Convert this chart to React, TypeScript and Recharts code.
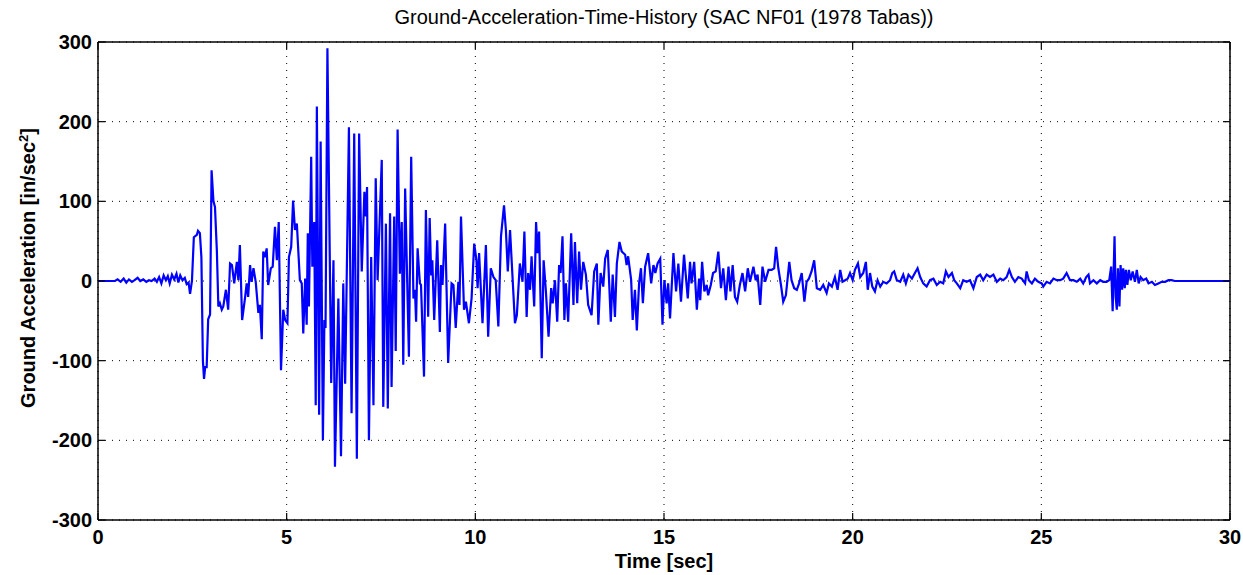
import React from 'react';
import { LineChart, Line, XAxis, YAxis, CartesianGrid, ReferenceLine } from 'recharts';

// --- tick values ---
const X_TICKS = [0, 5, 10, 15, 20, 25, 30];
const Y_TICKS = [-300, -200, -100, 0, 100, 200, 300];

// --- record, [time (s), acceleration (in/sec^2)] ---
const PRE_EVENT: [number, number][] = [
  [0, 0], [0.45, 0], [0.52, 2], [0.6, -1], [0.68, 3], [0.75, -2], [0.82, 2], [0.9, -1], [0.97, 1],
  [1.05, 4], [1.12, 0], [1.2, 2], [1.28, -1], [1.35, 1], [1.42, 0], [1.5, 3], [1.56, -1], [1.62, 5],
  [1.68, -3], [1.74, 7], [1.8, 1], [1.85, 6], [1.9, -3], [1.96, 8], [2.02, 2], [2.08, 9], [2.13, -2],
  [2.18, 7], [2.24, 1], [2.3, 4], [2.35, -4], [2.4, -2], [2.44, -16], [2.49, 0],
];

const STRONG_MOTION: [number, number][] = [
  [2.54, 55], [2.62, 58], [2.65, 63], [2.7, 60], [2.74, 30], [2.78, -100], [2.81, -123], [2.84, -108],
  [2.88, -108], [2.92, -48], [2.97, -42], [3.01, 139], [3.06, 100], [3.1, 93], [3.15, 38], [3.19, -32],
  [3.23, -28], [3.28, -36], [3.32, -32], [3.39, -11], [3.45, -36], [3.5, 22], [3.55, 20], [3.61, -3],
  [3.68, 24], [3.72, 1], [3.76, 45], [3.82, -49], [3.9, -20], [3.94, -3], [3.98, -20], [4.03, 20],
  [4.07, -1], [4.12, 16], [4.18, -1], [4.25, -40], [4.29, -30], [4.34, -73], [4.38, 37], [4.43, 30],
  [4.47, 41], [4.51, -5], [4.58, 16], [4.63, 18], [4.69, 68], [4.74, 26], [4.79, 74], [4.85, -112],
  [4.91, -36], [4.96, -49], [5.02, -53], [5.06, 30], [5.12, 43], [5.17, 101], [5.22, 64], [5.27, 72],
  [5.35, 1], [5.4, -3], [5.44, -66], [5.49, 3], [5.53, -55], [5.56, 60], [5.59, -32], [5.65, 156],
  [5.68, 18], [5.73, 74], [5.77, -156], [5.8, 219], [5.86, -168], [5.9, 175], [5.96, -200], [6.0, -49],
  [6.03, -59], [6.08, 292], [6.18, -128], [6.24, 26], [6.28, -233], [6.37, -22], [6.44, -220],
  [6.5, -3], [6.55, -129], [6.65, 193], [6.72, -166], [6.79, 185], [6.86, -223], [6.92, 185],
  [6.99, 12], [7.06, 112], [7.1, 81], [7.13, 118], [7.18, -200], [7.24, 30], [7.3, -156], [7.36, 129],
  [7.41, 1], [7.52, 152], [7.56, -158], [7.63, 72], [7.68, -160], [7.74, 85], [7.78, -133], [7.85, 81],
  [7.89, -88], [7.94, 190], [8.0, 9], [8.05, 74], [8.09, -105], [8.14, 116], [8.19, 9], [8.24, -95],
  [8.3, 156], [8.36, -22], [8.4, -11], [8.43, -51], [8.47, 41], [8.53, -3], [8.56, -5], [8.64, -120],
  [8.69, 89], [8.75, -45], [8.79, 79], [8.83, 7], [8.86, 26], [8.91, -49], [8.99, 51], [9.06, -64],
  [9.09, 20], [9.13, -5], [9.2, 72], [9.28, -103], [9.37, -3], [9.42, -5], [9.48, -59], [9.55, -1],
  [9.58, -30], [9.62, 81], [9.7, -36], [9.75, -26], [9.83, -53], [9.9, -22], [9.97, 47],
];

const CODA: [number, number][] = [
  [10.03, 26], [10.06, -9], [10.1, 35], [10.19, -53], [10.28, 45], [10.34, -70], [10.41, 16],
  [10.48, 5], [10.54, 1], [10.61, -57], [10.68, 56], [10.76, 95], [10.81, 64], [10.86, 12], [10.92, 64],
  [11.05, -53], [11.1, -43], [11.18, 22], [11.25, -1], [11.3, 62], [11.36, -45], [11.4, 10],
  [11.45, -11], [11.49, 31], [11.56, -32], [11.61, 74], [11.65, 35], [11.69, 62], [11.76, -97],
  [11.81, 26], [11.87, -13], [11.94, -70], [12.01, -9], [12.05, -28], [12.11, 1], [12.17, -51],
  [12.22, 20], [12.26, 10], [12.31, 56], [12.36, -49], [12.4, -3], [12.46, -51], [12.54, 60],
  [12.6, -30], [12.64, 49], [12.7, -28], [12.75, 37], [12.8, -11], [12.86, 24], [12.93, 8],
  [12.99, -30], [13.08, -43], [13.15, 12], [13.22, 22], [13.26, -55], [13.32, 10], [13.39, -7],
  [13.44, 28], [13.51, 39], [13.59, -51], [13.64, 8], [13.7, -45], [13.75, 22], [13.82, 49],
  [13.88, 37], [13.97, 33], [14.01, 20], [14.05, 31], [14.13, 1], [14.17, -49], [14.23, -11],
  [14.28, -62], [14.34, -3], [14.39, 16], [14.44, -28], [14.5, 18], [14.58, 35], [14.66, -3],
  [14.72, 20], [14.77, 10], [14.83, 22], [14.9, 28], [14.96, -55], [15.01, 1], [15.07, -28],
  [15.11, -3], [15.16, -47], [15.25, 35], [15.32, -13], [15.38, 22], [15.45, -26], [15.53, 33],
  [15.63, -22], [15.69, 24], [15.73, -3], [15.8, 24], [15.87, -36], [15.93, 3], [15.96, -24],
  [16.01, 24], [16.07, -13], [16.13, -5], [16.17, -18], [16.24, -5], [16.3, 10], [16.37, 12],
  [16.44, 37], [16.51, -9], [16.57, 16], [16.64, -24], [16.71, 18], [16.76, -13], [16.82, 20],
  [16.88, -20], [16.94, -26], [17.01, -5], [17.08, 10], [17.15, -13], [17.22, 16], [17.28, -1],
  [17.37, 18], [17.43, 1], [17.48, 8], [17.55, -30], [17.61, 18], [17.68, -1], [17.77, 14],
  [17.85, 14], [17.92, 16], [17.97, 43], [18.03, 16], [18.1, -5], [18.16, -26], [18.23, -18],
  [18.28, 5], [18.32, 24], [18.38, 1], [18.45, -9], [18.52, -11], [18.58, -3], [18.65, 10],
  [18.72, -26], [18.78, -1], [18.84, 3], [18.91, 12], [18.98, 26], [19.05, -9], [19.14, -11],
  [19.22, -5], [19.31, -15], [19.37, -3], [19.45, -7], [19.53, 5], [19.6, -11], [19.67, 14],
  [19.73, -1], [19.8, 1], [19.87, 3], [19.93, 10],
];

const LATE: [number, number][] = [
  [20.0, 1], [20.06, 14], [20.14, 22], [20.2, 5], [20.28, 10], [20.35, 24], [20.4, -11], [20.46, 10],
  [20.52, -7], [20.59, -13], [20.66, 1], [20.73, -7], [20.81, -1], [20.9, -3], [20.99, 1], [21.05, 10],
  [21.1, 12], [21.17, 1], [21.26, -1], [21.34, 8], [21.41, -3], [21.48, 8], [21.57, 3], [21.65, 10],
  [21.72, 16], [21.79, 5], [21.87, -3], [21.96, -7], [22.05, 1], [22.14, 3], [22.23, -5], [22.32, -1],
  [22.4, -3], [22.47, 12], [22.54, 5], [22.63, 10], [22.69, 1], [22.76, -3], [22.85, -9], [22.93, 1],
  [23.02, -1], [23.11, 1], [23.2, -9], [23.29, 5], [23.38, 8], [23.46, 1], [23.55, 8], [23.64, 5],
  [23.73, 8], [23.82, -1], [23.91, 3], [23.99, 1], [24.08, 5], [24.15, 14], [24.22, 5], [24.3, -1],
  [24.39, 5], [24.48, 3], [24.57, -3], [24.61, 12], [24.67, 1], [24.75, -3], [24.83, 3], [24.92, -1],
  [25.01, -3], [25.05, -7], [25.14, -1], [25.23, -3], [25.32, 3], [25.41, 1], [25.5, 1], [25.58, 3],
  [25.67, 10], [25.76, 1], [25.85, 1], [25.94, -1], [26.03, 3], [26.11, -3], [26.19, 5], [26.25, 8],
  [26.29, -3], [26.38, 1], [26.47, -3], [26.56, 1], [26.64, -1], [26.73, -1], [26.8, 1], [26.85, 18],
  [26.89, -38], [26.94, 56], [26.97, -20], [27.0, -36], [27.03, 16], [27.07, -32], [27.1, 20],
  [27.14, -11], [27.17, 16], [27.21, -9], [27.24, 14], [27.28, -5], [27.32, 14], [27.37, 1],
  [27.42, 12], [27.48, -1], [27.53, 14], [27.58, -3], [27.63, 5], [27.7, 1], [27.78, 3], [27.84, -3],
  [27.93, -1], [28.01, -5], [28.1, -3], [28.19, -1], [28.28, -1], [28.37, 1], [28.45, 1], [28.54, 0],
  [30, 0],
];

const data = [...PRE_EVENT, ...STRONG_MOTION, ...CODA, ...LATE].map(([t, a]) => ({ t, a }));

const W = 1243;
const H = 575;
// plot box in page pixels
const BOX = { left: 98, right: 1230, top: 42, bottom: 520 };
const Y_AXIS_W = 60;
const X_AXIS_H = 30;
const FONT = '"Liberation Sans", Arial, Helvetica, sans-serif';
const TICK_LEN = 7;

const XTick = (props: any) => {
  const { x, payload } = props;
  return (
    <g>
      <line x1={x} x2={x} y1={BOX.bottom} y2={BOX.bottom - TICK_LEN} stroke="#000" strokeWidth={1.2} />
      <line x1={x} x2={x} y1={BOX.top} y2={BOX.top + TICK_LEN} stroke="#000" strokeWidth={1.2} />
      <text x={x} y={BOX.bottom + 24} textAnchor="middle" fontFamily={FONT} fontWeight="bold" fontSize={20} fill="#000">
        {payload.value}
      </text>
    </g>
  );
};

const YTick = (props: any) => {
  const { y, payload } = props;
  return (
    <g>
      <line x1={BOX.left} x2={BOX.left + TICK_LEN} y1={y} y2={y} stroke="#000" strokeWidth={1.2} />
      <line x1={BOX.right} x2={BOX.right - TICK_LEN} y1={y} y2={y} stroke="#000" strokeWidth={1.2} />
      <text x={BOX.left - 6} y={y + 7} textAnchor="end" fontFamily={FONT} fontWeight="bold" fontSize={20} fill="#000">
        {payload.value}
      </text>
    </g>
  );
};

export default function App() {
  return (
    <div style={{ position: 'absolute', left: 0, top: 0, width: W, height: H, background: '#fff', fontFamily: FONT }}>
      <LineChart
        width={W}
        height={H}
        data={data}
        margin={{ top: BOX.top, right: W - BOX.right, bottom: H - BOX.bottom - X_AXIS_H, left: BOX.left - Y_AXIS_W }}
      >
        <CartesianGrid stroke="#000" strokeDasharray="1 6" strokeWidth={1} />
        <XAxis
          dataKey="t"
          type="number"
          domain={[0, 30]}
          ticks={X_TICKS}
          allowDataOverflow
          height={X_AXIS_H}
          axisLine={{ stroke: '#000', strokeWidth: 1.5 }}
          tickLine={false}
          tick={<XTick />}
        />
        <YAxis
          type="number"
          domain={[-300, 300]}
          ticks={Y_TICKS}
          allowDataOverflow
          width={Y_AXIS_W}
          axisLine={{ stroke: '#000', strokeWidth: 1.5 }}
          tickLine={false}
          tick={<YTick />}
        />
        <ReferenceLine y={300} stroke="#000" strokeWidth={1.5} />
        <ReferenceLine x={30} stroke="#000" strokeWidth={1.5} />
        <Line
          type="linear"
          dataKey="a"
          stroke="#0000ff"
          strokeWidth={2.2}
          dot={false}
          isAnimationActive={false}
        />
      </LineChart>
      <div
        style={{ position: 'absolute', top: 6, left: BOX.left, width: BOX.right - BOX.left, textAlign: 'center', fontSize: 20, color: '#000' }}
      >
        Ground-Acceleration-Time-History (SAC NF01 (1978 Tabas))
      </div>
      <div
        style={{ position: 'absolute', top: 550, left: BOX.left, width: BOX.right - BOX.left, textAlign: 'center', fontSize: 20, fontWeight: 'bold', color: '#000' }}
      >
        Time [sec]
      </div>
      <div
        style={{
          position: 'absolute',
          left: 28,
          top: 268,
          transform: 'translate(-50%, -50%) rotate(-90deg)',
          whiteSpace: 'nowrap',
          fontSize: 20,
          fontWeight: 'bold',
          color: '#000',
        }}
      >
        Ground Acceleration [in/sec<sup style={{ fontSize: 13 }}>2</sup>]
      </div>
    </div>
  );
}
